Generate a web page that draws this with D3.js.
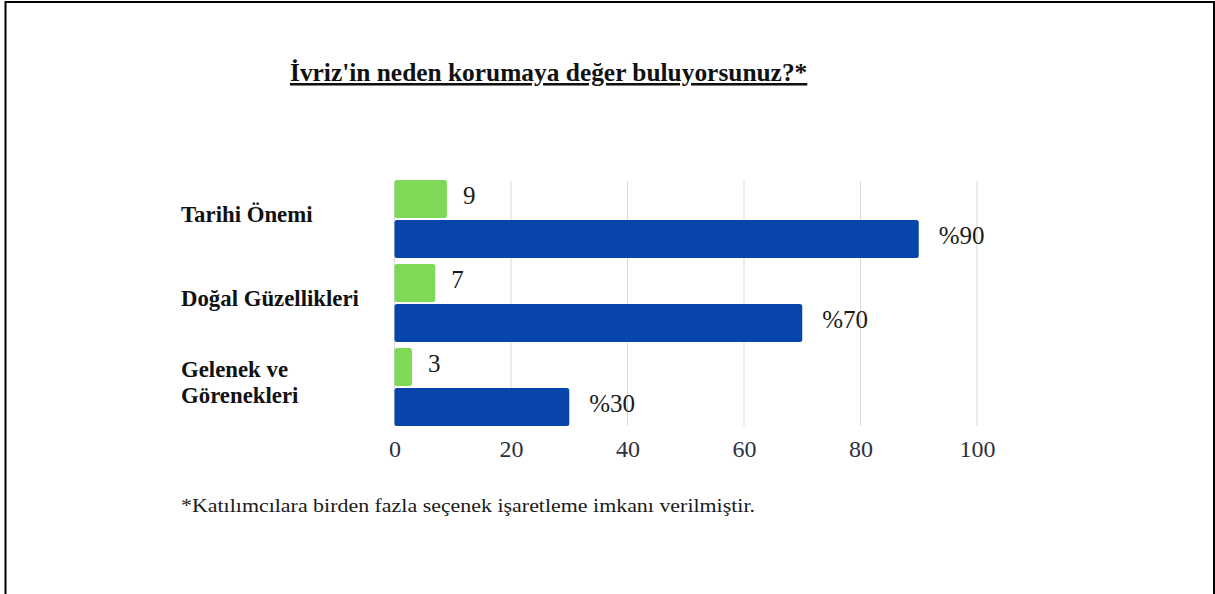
<!DOCTYPE html>
<html>
<head>
<meta charset="utf-8">
<script src="https://cdn.jsdelivr.net/npm/d3@7"></script>
<style>
  body { margin: 0; background: #fff; }
  svg { display: block; font-family: "Liberation Serif", "Times New Roman", serif; }
</style>
</head>
<body>
<svg id="chart" width="1215" height="594"></svg>
<script>

// Chart data.
var categories = ["Tarihi Önemi", "Doğal Güzellikleri", "Gelenek ve Görenekleri"];
var categoryLines = [["Tarihi Önemi"], ["Doğal Güzellikleri"], ["Gelenek ve", "Görenekleri"]];
var counts = [9, 7, 3];
var percents = [90, 70, 30];
var tickValues = [0, 20, 40, 60, 80, 100];
var title = "İvriz'in neden korumaya değer buluyorsunuz?*";
var footnote = "*Katılımcılara birden fazla seçenek işaretleme imkanı verilmiştir.";

var svg = d3.select('#chart');

// Frame round the picture.
svg.append('rect')
   .attr('x', 5.5)
   .attr('y', 2)
   .attr('width', 1208.5)
   .attr('height', 700)
   .attr('fill', 'none')
   .attr('stroke', '#000')
   .attr('stroke-width', 2);

// Scales.
var x = d3.scaleLinear().domain([0, 100]).range([394.5, 977]);
var y = d3.scaleBand()
          .domain(categories)
          .range([177, 429])
          .paddingInner(0.0714)
          .paddingOuter(0.0357);
var sub = d3.scaleBand()
            .domain(['count', 'pct'])
            .range([0, y.bandwidth()])
            .paddingInner(0.05);

// Vertical gridlines.
svg.append('g')
   .selectAll('line')
   .data(tickValues)
   .enter()
   .append('line')
   .attr('x1', function(d) { return x(d); })
   .attr('x2', function(d) { return x(d); })
   .attr('y1', 181)
   .attr('y2', 426)
   .attr('stroke', '#d9d9d9')
   .attr('stroke-width', 1);

// Bottom axis, labels only.
var axis = svg.append('g')
              .attr('transform', 'translate(0,430)')
              .call(d3.axisBottom(x).tickValues(tickValues).tickSize(0).tickPadding(0));
axis.select('.domain').remove();
axis.selectAll('text')
    .attr('dy', 27)
    .style('font-family', '"Liberation Serif", serif')
    .style('font-size', '24px')
    .style('fill', '#2e3240');

// Rows, one group per category.
var rows = categories.map(function(c, i) {
  return { name: c, lines: categoryLines[i], count: counts[i], pct: percents[i] };
});

var row = svg.append('g')
             .selectAll('g')
             .data(rows)
             .enter()
             .append('g')
             .attr('transform', function(d) { return 'translate(0,' + y(d.name) + ')'; });

// Green bars: number of answers.
row.append('rect')
   .attr('x', x(0))
   .attr('y', sub('count'))
   .attr('width', function(d) { return x(d.count) - x(0); })
   .attr('height', sub.bandwidth())
   .attr('rx', 2.5)
   .attr('fill', '#7ed957');

// Blue bars: percentage.
row.append('rect')
   .attr('x', x(0))
   .attr('y', sub('pct'))
   .attr('width', function(d) { return x(d.pct) - x(0); })
   .attr('height', sub.bandwidth())
   .attr('rx', 2.5)
   .attr('fill', '#0745aa');

// Value labels.
row.append('text')
   .attr('x', function(d) { return x(d.count) + 16; })
   .attr('y', sub('count') + sub.bandwidth() / 2 + 5)
   .style('font-size', '25px')
   .style('fill', '#1a1a1a')
   .text(function(d) { return d.count; });

row.append('text')
   .attr('x', function(d) { return x(d.pct) + 20; })
   .attr('y', sub('pct') + sub.bandwidth() / 2 + 5)
   .style('font-size', '25px')
   .style('fill', '#1a1a1a')
   .text(function(d) { return '%' + d.pct; });

// Category labels, left aligned, bold.
row.append('text')
   .attr('x', 181)
   .attr('y', function(d) { return y.bandwidth() / 2 + 3 - (d.lines.length - 1) * 13; })
   .style('font-size', '22.8px')
   .style('font-weight', 'bold')
   .style('fill', '#111')
   .selectAll('tspan')
   .data(function(d) { return d.lines; })
   .enter()
   .append('tspan')
   .attr('x', 181)
   .attr('dy', function(d, i) { return i === 0 ? 0 : 26; })
   .text(function(d) { return d; });

// Title, bold and underlined.
svg.append('text')
   .attr('x', 290)
   .attr('y', 81)
   .style('font-size', '25.4px')
   .style('font-weight', 'bold')
   .style('text-decoration', 'underline')
   .style('fill', '#111')
   .text(title);

// Footnote, a bit wider than the font gives.
svg.append('text')
   .attr('x', 181)
   .attr('y', 512)
   .attr('textLength', 574)
   .attr('lengthAdjust', 'spacingAndGlyphs')
   .style('font-size', '19px')
   .style('fill', '#1a1a1a')
   .text(footnote);

</script>
</body>
</html>
